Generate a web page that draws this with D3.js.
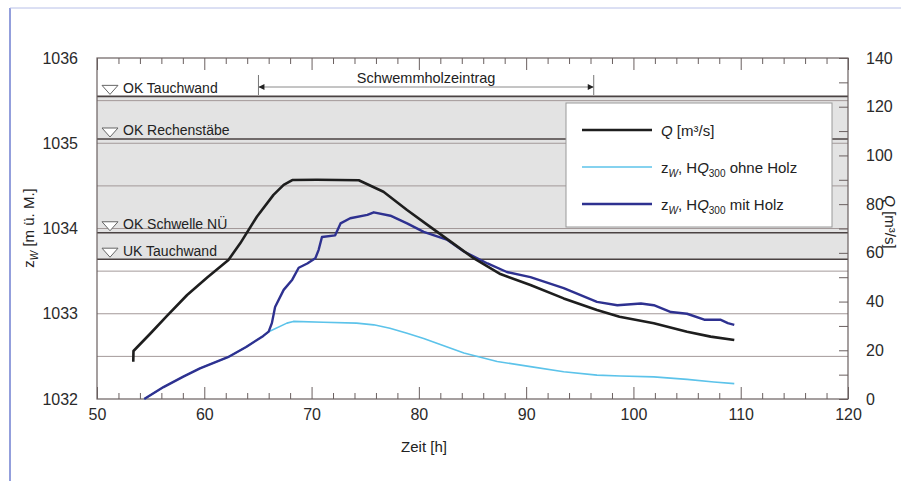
<!DOCTYPE html>
<html>
<head>
<meta charset="utf-8">
<script src="https://cdn.jsdelivr.net/npm/d3@7"></script>
<style>
  body { margin: 0; background: #fff; }
  svg { display: block; font-family: "Liberation Sans", Arial, sans-serif; }
  .axis text { font-size: 16px; fill: #2a2a2a; }
  .axis line, .axis path { stroke: #6a6060; }
</style>
</head>
<body>
<svg id="chart" width="901" height="481"></svg>
<script>
// discharge Q [m3/s]
const qTime = [53.38, 53.4, 55.0, 56.5, 58.4, 60.3, 62.25, 63.35, 64.9, 66.45, 67.4, 68.2, 70.5, 72.5, 74.4,
               74.9, 76.7, 78.9, 80.9, 83.0, 85.1, 87.6, 90.4, 93.5, 96.6, 98.7, 101.9, 105.0, 107.2, 109.4];
const qValue = [15.3, 19.7, 27.0, 34.0, 42.7, 50.0, 57.1, 63.9, 74.8, 83.8, 87.9, 89.9, 90.0, 89.9, 89.8,
                88.8, 85.1, 77.6, 71.2, 64.5, 57.8, 51.3, 46.8, 41.3, 36.5, 33.8, 31.1, 27.6, 25.6, 24.2];

// water level without wood
const ohneTime = [54.4, 56.2, 58.0, 59.6, 62.2, 63.9, 65.5, 66.0, 67.7, 68.3, 71.1, 74.2, 75.8, 77.3, 78.9,
                  80.45, 82.0, 84.2, 87.3, 90.4, 93.5, 96.6, 98.8, 101.9, 105.0, 107.5, 109.4];
const ohneLevel = [1032.0, 1032.14, 1032.26, 1032.36, 1032.49, 1032.61, 1032.74, 1032.79, 1032.89, 1032.91, 1032.9,
                   1032.89, 1032.87, 1032.83, 1032.77, 1032.71, 1032.64, 1032.54, 1032.44, 1032.38, 1032.32,
                   1032.28, 1032.27, 1032.26, 1032.23, 1032.2, 1032.18];

// water level with wood
const mitTime = [54.4, 56.2, 58.0, 59.6, 62.2, 63.9, 65.5, 66.0, 66.3, 66.6, 67.4, 68.2, 68.8, 69.6, 70.35,
                 70.66, 70.97, 72.2, 72.7, 73.6, 75.2, 75.8, 77.35, 78.9, 80.45, 82.6, 84.2, 86.4, 88.2, 90.4,
                 93.5, 96.6, 98.5, 100.7, 101.9, 103.5, 105.0, 106.6, 108.1, 108.8, 109.4];
const mitLevel = [1032.0, 1032.14, 1032.26, 1032.36, 1032.49, 1032.61, 1032.74, 1032.79, 1032.89, 1033.08, 1033.28,
                  1033.4, 1033.54, 1033.59, 1033.65, 1033.75, 1033.9, 1033.92, 1034.06, 1034.12, 1034.16, 1034.19,
                  1034.15, 1034.06, 1033.96, 1033.87, 1033.73, 1033.59, 1033.49, 1033.43, 1033.3, 1033.14, 1033.1,
                  1033.12, 1033.1, 1033.02, 1033.0, 1032.93, 1032.93, 1032.89, 1032.87];

// structure levels [m ü. M.]
const levelNames = ["OK Tauchwand", "OK Rechenstäbe", "OK Schwelle NÜ", "UK Tauchwand"];
const levelValues = [1035.55, 1035.05, 1033.95, 1033.64];

// driftwood input period [h]
const driftStart = 65.05;
const driftEnd = 96.3;

const zTicks = [1032, 1033, 1034, 1035, 1036];
const zGrid = [1032.5, 1033, 1033.5, 1034, 1034.5, 1035, 1035.5];
const qTicks = [0, 20, 40, 60, 80, 100, 120, 140];
const tTicks = [50, 60, 70, 80, 90, 100, 110, 120];

const legendLabels = ["Q [m³/s]", "ohne Holz", "mit Holz"];

const pL = 97, pR = 848, pT = 58, pB = 399;

const svg = d3.select("#chart");

let x = d3.scaleLinear().domain([50, 120]).range([pL, pR]);
let yZ = d3.scaleLinear().domain([1032, 1036]).range([pB, pT]);
let yQ = d3.scaleLinear().domain([0, 140]).range([pB, pT]);

// page frame of the scan
svg.append("line").attr("x1", 10).attr("x2", 10).attr("y1", 8).attr("y2", 481)
   .attr("stroke", "#6f7fd0").attr("stroke-width", 1.5);
svg.append("line").attr("x1", 10).attr("x2", 901).attr("y1", 8).attr("y2", 8)
   .attr("stroke", "#b8c0e8").attr("stroke-width", 1);

// gray band between the structure levels
svg.append("rect")
   .attr("x", pL).attr("width", pR - pL)
   .attr("y", yZ(levelValues[0])).attr("height", yZ(levelValues[3]) - yZ(levelValues[0]))
   .attr("fill", "#e3e3e3");

// grid
svg.append("g").selectAll("line")
   .data(zGrid).enter().append("line")
   .attr("x1", pL).attr("x2", pR)
   .attr("y1", d => yZ(d)).attr("y2", d => yZ(d))
   .attr("stroke", "#a39999").attr("stroke-width", 1);

// level lines
svg.append("g").selectAll("line")
   .data(levelValues).enter().append("line")
   .attr("x1", pL).attr("x2", pR)
   .attr("y1", d => yZ(d)).attr("y2", d => yZ(d))
   .attr("stroke", "#4a4242").attr("stroke-width", 1.6);

// level markers and labels
let marks = svg.append("g").selectAll("g")
   .data(levelValues).enter().append("g");
marks.append("path")
   .attr("d", d => `M102,${yZ(d) - 11} L118,${yZ(d) - 11} L110,${yZ(d) - 2} Z`)
   .attr("fill", "#fff").attr("stroke", "#666").attr("stroke-width", 1);
marks.append("text")
   .attr("x", 123).attr("y", d => yZ(d) - 3.5)
   .attr("font-size", 14).attr("fill", "#222")
   .text((d, i) => levelNames[i]);

// legend box
svg.append("rect")
   .attr("x", 566).attr("y", 103).attr("width", 266).attr("height", 124)
   .attr("fill", "#fff").attr("stroke", "#999").attr("stroke-width", 1);

// axes
let minorT = d3.range(52, 120, 2).filter(d => d % 10 !== 0);
svg.append("g").attr("class", "axis").attr("transform", `translate(0,${pB})`)
   .call(d3.axisBottom(x).tickValues(tTicks).tickSize(-12).tickSizeOuter(0).tickPadding(10));
svg.append("g").attr("class", "axis").attr("transform", `translate(0,${pB})`)
   .call(d3.axisBottom(x).tickValues(minorT).tickSize(-6).tickSizeOuter(0).tickFormat(""));
svg.append("g").attr("class", "axis").attr("transform", `translate(0,${pT})`)
   .call(d3.axisTop(x).tickValues(tTicks).tickSize(-12).tickSizeOuter(0).tickFormat(""));
svg.append("g").attr("class", "axis").attr("transform", `translate(0,${pT})`)
   .call(d3.axisTop(x).tickValues(minorT).tickSize(-6).tickSizeOuter(0).tickFormat(""));
svg.append("g").attr("class", "axis").attr("transform", `translate(${pL},0)`)
   .call(d3.axisLeft(yZ).tickValues(zTicks).tickSize(0).tickSizeOuter(0).tickPadding(19).tickFormat(d3.format("d")));
svg.append("g").attr("class", "axis").attr("transform", `translate(${pR},0)`)
   .call(d3.axisRight(yQ).tickValues(qTicks).tickSize(-9).tickSizeOuter(0).tickPadding(18));
svg.append("g").attr("class", "axis").attr("transform", `translate(${pR},0)`)
   .call(d3.axisRight(yQ).tickValues(d3.range(10, 140, 20)).tickSize(-9).tickSizeOuter(0).tickFormat(""));
svg.selectAll(".axis .domain").remove();
svg.selectAll(".axis line").attr("stroke", "#6a6060");

svg.append("rect")
   .attr("x", pL).attr("y", pT).attr("width", pR - pL).attr("height", pB - pT)
   .attr("fill", "none").attr("stroke", "#6a6060").attr("stroke-width", 1.2);

// driftwood annotation
let arrowY = 87;
svg.append("defs").append("marker")
   .attr("id", "arr").attr("viewBox", "0 0 10 10").attr("refX", 10).attr("refY", 5)
   .attr("markerWidth", 15).attr("markerHeight", 6).attr("markerUnits", "userSpaceOnUse")
   .attr("orient", "auto-start-reverse")
   .append("path").attr("d", "M0,0 L10,5 L0,10 Z").attr("fill", "#222");
svg.append("line")
   .attr("x1", x(driftStart)).attr("x2", x(driftEnd)).attr("y1", arrowY).attr("y2", arrowY)
   .attr("stroke", "#8a8a8a").attr("stroke-width", 1)
   .attr("marker-start", "url(#arr)").attr("marker-end", "url(#arr)");
svg.append("g").selectAll("line")
   .data([driftStart, driftEnd]).enter().append("line")
   .attr("x1", d => x(d)).attr("x2", d => x(d)).attr("y1", 75).attr("y2", 95)
   .attr("stroke", "#777").attr("stroke-width", 1);
svg.append("text")
   .attr("x", (x(driftStart) + x(driftEnd)) / 2).attr("y", 83)
   .attr("text-anchor", "middle").attr("font-size", 14.5).attr("fill", "#222")
   .text("Schwemmholzeintrag");

// series
let lineZ = d3.line().x(d => x(d[0])).y(d => yZ(d[1]));
let lineQ = d3.line().x(d => x(d[0])).y(d => yQ(d[1]));

svg.append("path")
   .attr("fill", "none").attr("stroke", "#5cc3ea").attr("stroke-width", 1.6)
   .attr("stroke-linejoin", "round")
   .attr("d", lineZ(d3.zip(ohneTime, ohneLevel)));
svg.append("path")
   .attr("fill", "none").attr("stroke", "#2e3190").attr("stroke-width", 2.4)
   .attr("stroke-linejoin", "round")
   .attr("d", lineZ(d3.zip(mitTime, mitLevel)));
svg.append("path")
   .attr("fill", "none").attr("stroke", "#1e1e1e").attr("stroke-width", 2.6)
   .attr("stroke-linejoin", "round")
   .attr("d", lineQ(d3.zip(qTime, qValue)));

// legend
let legColors = ["#1e1e1e", "#5cc3ea", "#2e3190"];
let legWidths = [2.6, 1.6, 2.4];
let legY = [130, 167, 204];
let leg = svg.append("g").selectAll("g")
   .data(legendLabels).enter().append("g")
   .attr("transform", (d, i) => `translate(0,${legY[i]})`);
leg.append("line")
   .attr("x1", 582).attr("x2", 652)
   .attr("stroke", (d, i) => legColors[i]).attr("stroke-width", (d, i) => legWidths[i]);
let legText = leg.append("text").attr("x", 661).attr("y", 6).attr("font-size", 15).attr("fill", "#222");
legText.each(function(d, i) {
  let t = d3.select(this);
  if (i === 0) {
    t.append("tspan").attr("font-style", "italic").text("Q");
    t.append("tspan").text(" [m³/s]");
  } else {
    t.append("tspan").text("z");
    t.append("tspan").attr("font-style", "italic").attr("font-size", 10).attr("dy", 4).text("W");
    t.append("tspan").attr("dy", -4).text(", H");
    t.append("tspan").attr("font-style", "italic").text("Q");
    t.append("tspan").attr("font-size", 10).attr("dy", 4).text("300");
    t.append("tspan").attr("dy", -4).text(" " + d);
  }
});

// axis titles
let zt = svg.append("text")
   .attr("transform", "translate(34,228) rotate(-90)")
   .attr("text-anchor", "middle").attr("font-size", 15).attr("fill", "#222");
zt.append("tspan").text("z");
zt.append("tspan").attr("font-style", "italic").attr("font-size", 10).attr("dy", 4).text("W");
zt.append("tspan").attr("dy", -4).text(" [m ü. M.]");

svg.append("text")
   .attr("transform", "translate(885,222) rotate(90)")
   .attr("text-anchor", "middle").attr("font-size", 15).attr("fill", "#222")
   .html('<tspan font-style="italic">Q</tspan> [m³/s]');

svg.append("text")
   .attr("x", 424).attr("y", 452)
   .attr("text-anchor", "middle").attr("font-size", 15).attr("fill", "#222")
   .text("Zeit [h]");
</script>
</body>
</html>
